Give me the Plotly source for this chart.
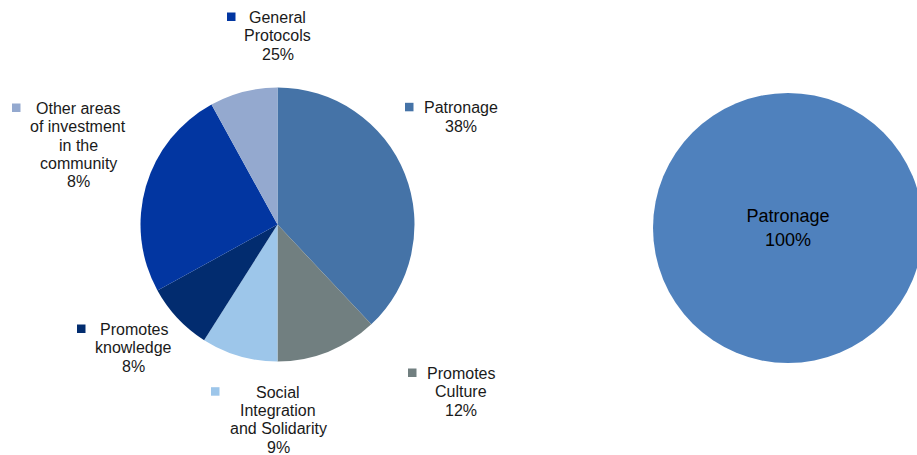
import plotly.graph_objects as go

# Community investment breakdown (left) and comparison year (right)
categories = ["Patronage", "Promotes Culture", "Social Integration and Solidarity",
              "Promotes knowledge", "General Protocols",
              "Other areas of investment in the community"]
shares = [38, 12, 9, 8, 25, 8]
slice_colors = ["#4573A7", "#717F80", "#9DC6EA", "#022C6F", "#0236A1", "#94A9CF"]

right_categories = ["Patronage"]
right_shares = [100]
right_colors = ["#4F81BD"]

# Outside label text, split into lines as printed
label_lines = {
    "Patronage": ["Patronage"],
    "Promotes Culture": ["Promotes", "Culture"],
    "Social Integration and Solidarity": ["Social", "Integration", "and Solidarity"],
    "Promotes knowledge": ["Promotes", "knowledge"],
    "General Protocols": ["General", "Protocols"],
    "Other areas of investment in the community": ["Other areas", "of investment", "in the", "community"],
}

# Layout (pixels): label block centre x, first baseline y, square left x
label_layout = {
    "Patronage": (460.5, 113.3, 405),
    "Promotes Culture": (460.5, 379.0, 408),
    "Social Integration and Solidarity": (278.0, 397.7, 211),
    "Promotes knowledge": (133.5, 335.0, 77),
    "General Protocols": (277.5, 23.0, 227),
    "Other areas of investment in the community": (78.0, 114.0, 12),
}

W, H = 930, 455
FONT = "Liberation Sans, Arial, sans-serif"
LINE = 18.3
FS = 16


def px_x(x):
    return x / W


def px_y(y):
    return 1 - y / H


fig = go.Figure()

# Left pie: centre (277.5, 224.5), radius 137 px
lcx, lcy, lr = 277.5, 224.5, 137
fig.add_trace(go.Pie(
    labels=categories, values=shares, sort=False, direction="clockwise", rotation=0,
    marker=dict(colors=slice_colors, line=dict(width=0)),
    textinfo="none", hoverinfo="label+percent", showlegend=False,
    domain=dict(x=[px_x(lcx - lr), px_x(lcx + lr)], y=[px_y(lcy + lr), px_y(lcy - lr)]),
))

# Right pie: centre (788, 228), radius 135 px
rcx, rcy, rr = 788, 228, 135
fig.add_trace(go.Pie(
    labels=right_categories, values=right_shares, sort=False, direction="clockwise",
    marker=dict(colors=right_colors, line=dict(width=0)),
    texttemplate="%{label}<br>%{percent:.0%}", textposition="inside",
    insidetextorientation="horizontal",
    textfont=dict(family=FONT, size=18, color="#000000"),
    hoverinfo="label+percent", showlegend=False,
    domain=dict(x=[px_x(rcx - rr), px_x(rcx + rr)], y=[px_y(rcy + rr), px_y(rcy - rr)]),
))

total = sum(shares)
annotations = []
shapes = []
for cat, val, col in zip(categories, shares, slice_colors):
    cx, base, sqx = label_layout[cat]
    lines = label_lines[cat] + [f"{round(100 * val / total)}%"]
    for i, txt in enumerate(lines):
        b = base + i * LINE
        annotations.append(dict(
            text=txt, x=px_x(cx), y=px_y(b - 5.5), xref="paper", yref="paper",
            xanchor="center", yanchor="middle", showarrow=False,
            font=dict(family=FONT, size=FS, color="#1a1a1a"),
        ))
    shapes.append(dict(
        type="rect", xref="paper", yref="paper",
        x0=px_x(sqx), x1=px_x(sqx + 8.5), y0=px_y(base - 2), y1=px_y(base - 10.5),
        fillcolor=col, line=dict(width=0),
    ))

fig.update_layout(
    width=W, height=H, autosize=False,
    margin=dict(l=0, r=0, t=0, b=0),
    paper_bgcolor="#ffffff", plot_bgcolor="#ffffff",
    annotations=annotations, shapes=shapes,
    font=dict(family=FONT),
)

fig.write_html(
    "out.html",
    config={"displayModeBar": False, "responsive": False},
    post_script="document.body.style.margin='0';document.body.style.overflow='hidden';",
)
